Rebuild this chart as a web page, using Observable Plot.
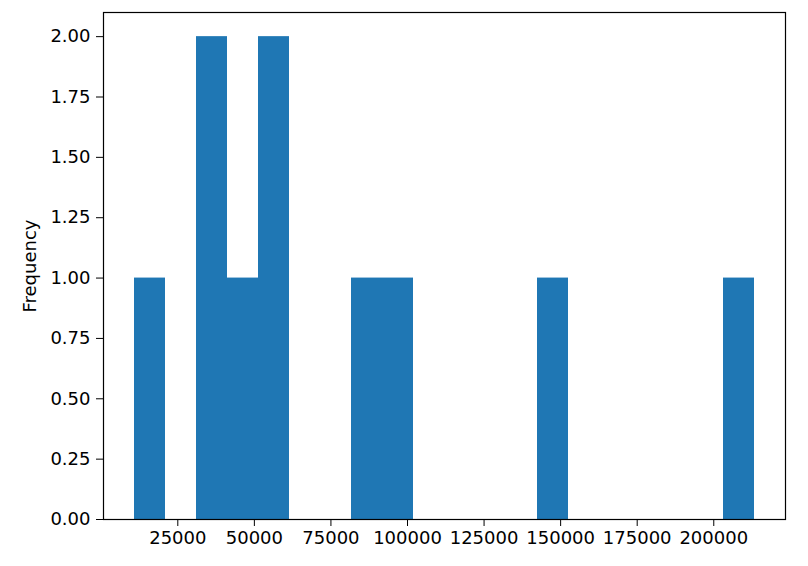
<!DOCTYPE html>
<html>
<head>
<meta charset="utf-8">
<script src="https://cdn.jsdelivr.net/npm/d3@7"></script>
<script src="https://cdn.jsdelivr.net/npm/@observablehq/plot@0.6"></script>
<style>
  html, body { margin: 0; padding: 0; background: #fff; }
  #chart svg { display: block; }
</style>
</head>
<body>
<div id="chart"></div>
<script>
// Histogram of 10 values in 20 equal-width bins
const binCounts = [1, 0, 2, 1, 2, 0, 0, 1, 1, 0, 0, 0, 0, 1, 0, 0, 0, 0, 0, 1];
const dataMin = 10860;
const dataMax = 213300;
const xTicks = [25000, 50000, 75000, 100000, 125000, 150000, 175000, 200000];
const yTicks = [0, 0.25, 0.5, 0.75, 1.0, 1.25, 1.5, 1.75, 2.0];
const yLabel = "Frequency";

const nBins = binCounts.length;
const binW = (dataMax - dataMin) / nBins;
const bins = binCounts.map((c, i) => ({x1: dataMin + i * binW, x2: dataMin + (i + 1) * binW, y: c}));
const span = dataMax - dataMin;
const yMax = d3.max(binCounts) * 1.05;

const chart = Plot.plot({
  width: 808,
  height: 566,
  marginLeft: 103,
  marginRight: 23,
  marginTop: 12,
  marginBottom: 47,
  style: {fontFamily: "DejaVu Sans", fontSize: "18px", color: "#000", background: "#fff"},
  x: {domain: [dataMin - 0.05 * span, dataMax + 0.05 * span]},
  y: {domain: [0, yMax]},
  marks: [
    Plot.rect(bins.filter(d => d.y > 0), {x1: "x1", x2: "x2", y1: 0, y2: "y", fill: "#1f77b4"}),
    Plot.axisX({ticks: xTicks, tickFormat: d => String(d), tickSize: 7, tickPadding: 5, label: null, fontSize: 18}),
    Plot.axisY({ticks: yTicks, tickFormat: d => d.toFixed(2), tickSize: 7, tickPadding: 6, fontSize: 18,
      label: yLabel, labelAnchor: "center", labelArrow: false, labelOffset: 80}),
    Plot.frame({stroke: "#000", strokeWidth: 1.2})
  ]
});
document.getElementById("chart").appendChild(chart);
</script>
</body>
</html>
